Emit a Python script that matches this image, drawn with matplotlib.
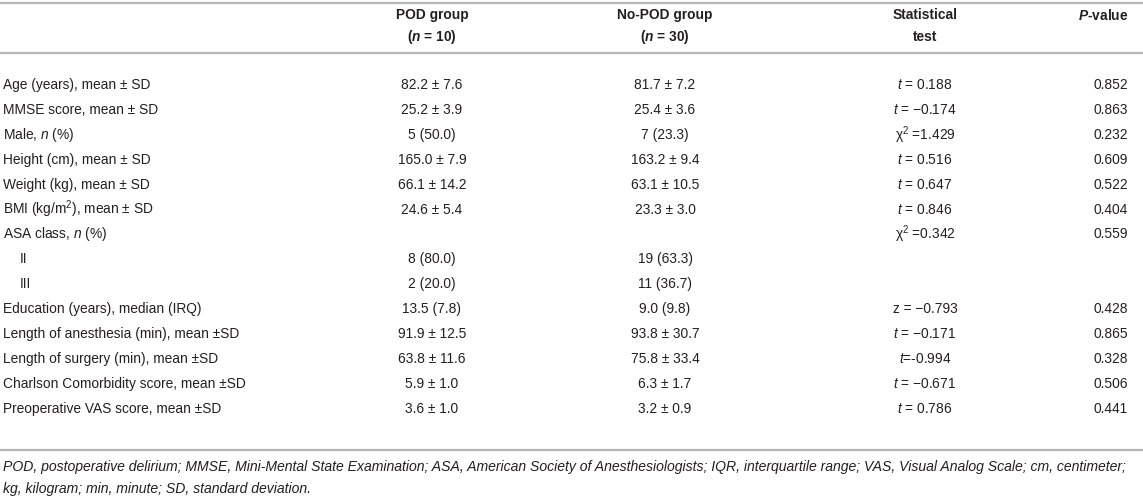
import matplotlib
matplotlib.use('Agg')
import matplotlib.pyplot as plt

# ---- table content ----
row_labels = [
    "Age (years), mean ± SD",
    "MMSE score, mean ± SD",
    "Male, $n$ (%)",
    "Height (cm), mean ± SD",
    "Weight (kg), mean ± SD",
    "BMI (kg/m$^2$), mean ± SD",
    "ASA class, $n$ (%)",
    "II",
    "III",
    "Education (years), median (IRQ)",
    "Length of anesthesia (min), mean ±SD",
    "Length of surgery (min), mean ±SD",
    "Charlson Comorbidity score, mean ±SD",
    "Preoperative VAS score, mean ±SD",
]
indented = [False, False, False, False, False, False, False, True, True,
            False, False, False, False, False]
pod_group = ["82.2 ± 7.6", "25.2 ± 3.9", "5 (50.0)", "165.0 ± 7.9", "66.1 ± 14.2",
             "24.6 ± 5.4", "", "8 (80.0)", "2 (20.0)", "13.5 (7.8)", "91.9 ± 12.5",
             "63.8 ± 11.6", "5.9 ± 1.0", "3.6 ± 1.0"]
no_pod_group = ["81.7 ± 7.2", "25.4 ± 3.6", "7 (23.3)", "163.2 ± 9.4", "63.1 ± 10.5",
                "23.3 ± 3.0", "", "19 (63.3)", "11 (36.7)", "9.0 (9.8)", "93.8 ± 30.7",
                "75.8 ± 33.4", "6.3 ± 1.7", "3.2 ± 0.9"]
stat_test = ["$t$ = 0.188", "$t$ = \u22120.174", "χ$^2$ =1.429", "$t$ = 0.516", "$t$ = 0.647",
             "$t$ = 0.846", "χ$^2$ =0.342", "", "", "z = \u22120.793", "$t$ = \u22120.171",
             "$t$=-0.994", "$t$ = \u22120.671", "$t$ = 0.786"]
p_values = ["0.852", "0.863", "0.232", "0.609", "0.522", "0.404", "0.559", "", "",
            "0.428", "0.865", "0.328", "0.506", "0.441"]

headers_1 = ["POD group", "No-POD group", "Statistical", "$\\mathbfit{P}$-value"]
headers_2 = ["($\\mathbfit{n}$ = 10)", "($\\mathbfit{n}$ = 30)", "test", ""]

footnote_1 = ("POD, postoperative delirium; MMSE, Mini-Mental State Examination; ASA, American "
              "Society of Anesthesiologists; IQR, interquartile range; VAS, Visual Analog Scale; "
              "cm, centimeter;")
footnote_2 = "kg, kilogram; min, minute; SD, standard deviation."

# ---- layout ----
W, H = 1143, 499
x_label = 3
x_indent = 20
x_pod = 432
x_nopod = 665
x_stat = 925
x_p = 1128
y_first = 85
row_step = 24.9
line_col = '#b5b5b5'
txt_col = '#231f20'
fs = 9.9

plt.rcParams['font.family'] = ['Liberation Sans', 'DejaVu Sans']
plt.rcParams['mathtext.fontset'] = 'custom'
plt.rcParams['mathtext.rm'] = 'Liberation Sans'
plt.rcParams['mathtext.it'] = 'Liberation Sans:italic'
plt.rcParams['mathtext.bf'] = 'Liberation Sans:bold'
plt.rcParams['mathtext.bfit'] = 'Liberation Sans:bold:italic'

fig = plt.figure(figsize=(W / 100, H / 100), dpi=100)
ax = fig.add_axes([0, 0, 1, 1])
ax.set_xlim(0, W)
ax.set_ylim(H, 0)
ax.axis('off')

for yl in [3, 53, 450]:
    ax.plot([0, W], [yl, yl], color=line_col, lw=1.6, solid_capstyle='butt')

col_x = [x_pod, x_nopod, x_stat, x_p]
col_ha = ['center', 'center', 'center', 'right']
for k in range(4):
    ax.text(col_x[k], 15, headers_1[k], ha=col_ha[k], va='center', fontsize=fs,
            fontweight='bold', color=txt_col)
    if headers_2[k]:
        ax.text(col_x[k], 37, headers_2[k], ha=col_ha[k], va='center', fontsize=fs,
                fontweight='bold', color=txt_col)

for i in range(len(row_labels)):
    y = y_first + i * row_step
    ax.text(x_indent if indented[i] else x_label, y, row_labels[i], ha='left',
            va='center', fontsize=fs, color=txt_col)
    cells = [pod_group[i], no_pod_group[i], stat_test[i], p_values[i]]
    for k in range(4):
        if cells[k]:
            ax.text(col_x[k], y, cells[k], ha=col_ha[k], va='center', fontsize=fs,
                    color=txt_col)

ax.text(x_label, 467, footnote_1, ha='left', va='center', fontsize=10.1,
        style='italic', color=txt_col)
ax.text(x_label, 489, footnote_2, ha='left', va='center', fontsize=10.1,
        style='italic', color=txt_col)

fig.savefig('out.png', dpi=100)
